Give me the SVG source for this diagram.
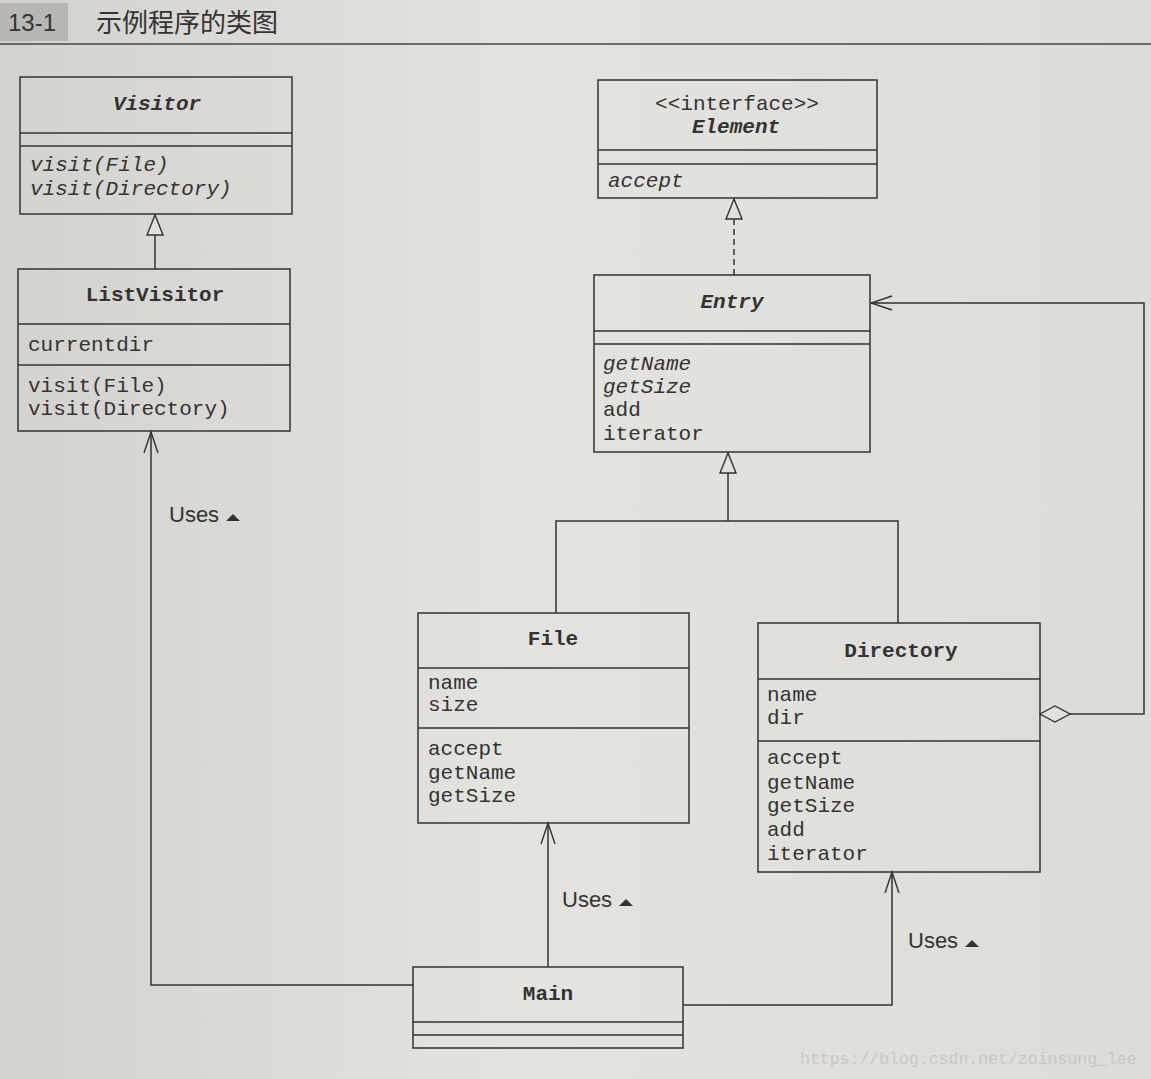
<svg xmlns="http://www.w3.org/2000/svg" width="1151" height="1079" viewBox="0 0 1151 1079">
<defs>
<linearGradient id="bg" x1="0" y1="0" x2="1" y2="0">
<stop offset="0" stop-color="#d3d2cf"/>
<stop offset="0.45" stop-color="#e4e3e0"/>
<stop offset="1" stop-color="#dddcd8"/>
</linearGradient>
<marker id="tri" markerUnits="userSpaceOnUse" markerWidth="24" markerHeight="20" viewBox="-22 -9 24 18" refX="0" refY="0" orient="auto">
<path d="M0,0 L-20,-8 L-20,8 Z" fill="#e2e1de" stroke="#333" stroke-width="1.4"/>
</marker>
<marker id="open" markerUnits="userSpaceOnUse" markerWidth="26" markerHeight="20" viewBox="-24 -10 26 20" refX="0" refY="0" orient="auto">
<path d="M-21,-7 L0,0 L-21,7" fill="none" stroke="#333" stroke-width="1.4"/>
</marker>
<marker id="diamond" markerUnits="userSpaceOnUse" markerWidth="34" markerHeight="20" viewBox="-1 -10 34 20" refX="0" refY="0" orient="auto">
<path d="M0,0 L15,-8 L30,0 L15,8 Z" fill="#e2e1de" stroke="#333" stroke-width="1.4"/>
</marker>
</defs>
<style>
.box{fill:none;stroke:#333;stroke-width:1.5}
.sep{stroke:#333;stroke-width:1.5}
.t{font-family:"Liberation Mono","DejaVu Sans Mono",monospace;font-size:21px;fill:#333}
.name{font-weight:bold;text-anchor:middle}
.it{font-style:italic}
.conn{fill:none;stroke:#333;stroke-width:1.5}
.uses{font-family:"Liberation Sans",Arial,sans-serif;font-size:22px;fill:#333}
.utri{fill:#333}
</style>
<rect x="0" y="0" width="1151" height="1079" fill="url(#bg)"/>
<g id="header">
<rect x="0" y="3" width="68" height="38" fill="#b9b7b3"/>
<text x="8" y="31" font-family="Liberation Sans, Arial, sans-serif" font-size="24" fill="#333">13-1</text>
<text x="96" y="32" font-family="Liberation Sans, 'Noto Sans CJK SC', sans-serif" font-size="26" fill="#333">示例程序的类图</text>
<line x1="0" y1="44" x2="1151" y2="44" stroke="#444" stroke-width="1.5"/>
</g>

<g id="connectors">
<line class="conn" x1="155" y1="269" x2="155" y2="215" marker-end="url(#tri)"/>
<line class="conn" x1="734" y1="275" x2="734" y2="199" stroke-dasharray="6,4" marker-end="url(#tri)"/>
<path class="conn" d="M556,613 V521 H898 V623"/>
<line class="conn" x1="728" y1="521" x2="728" y2="453" marker-end="url(#tri)"/>
<path class="conn" d="M1040,714 H1144 V303 H871" marker-start="url(#diamond)" marker-end="url(#open)"/>
<path class="conn" d="M413,985 H151 V432" marker-end="url(#open)"/>
<line class="conn" x1="548" y1="967" x2="548" y2="823" marker-end="url(#open)"/>
<path class="conn" d="M683,1005 H892 V872" marker-end="url(#open)"/>
<text class="uses" x="169" y="522">Uses</text>
<path class="utri" d="M226,521 L233,514 L240,521 Z"/>
<text class="uses" x="562" y="907">Uses</text>
<path class="utri" d="M619,906 L626,899 L633,906 Z"/>
<text class="uses" x="908" y="948">Uses</text>
<path class="utri" d="M965,947 L972,940 L979,947 Z"/>
</g>

<g id="Visitor">
<rect class="box" x="20" y="77" width="272" height="137"/>
<line class="sep" x1="20" y1="133" x2="292" y2="133"/>
<line class="sep" x1="20" y1="146" x2="292" y2="146"/>
<text class="t name it" x="157" y="110">Visitor</text>
<text class="t it" x="30" y="171">visit(File)</text>
<text class="t it" x="30" y="195">visit(Directory)</text>
</g>

<g id="ListVisitor">
<rect class="box" x="18" y="269" width="272" height="162"/>
<line class="sep" x1="18" y1="324" x2="290" y2="324"/>
<line class="sep" x1="18" y1="365" x2="290" y2="365"/>
<text class="t name" x="155" y="301">ListVisitor</text>
<text class="t" x="28" y="351">currentdir</text>
<text class="t" x="28" y="392">visit(File)</text>
<text class="t" x="28" y="415">visit(Directory)</text>
</g>

<g id="Element">
<rect class="box" x="598" y="80" width="279" height="118"/>
<line class="sep" x1="598" y1="150" x2="877" y2="150"/>
<line class="sep" x1="598" y1="164" x2="877" y2="164"/>
<text class="t" x="737" y="110" text-anchor="middle">&lt;&lt;interface&gt;&gt;</text>
<text class="t name it" x="736" y="133">Element</text>
<text class="t it" x="608" y="187">accept</text>
</g>

<g id="Entry">
<rect class="box" x="594" y="275" width="276" height="177"/>
<line class="sep" x1="594" y1="331" x2="870" y2="331"/>
<line class="sep" x1="594" y1="344" x2="870" y2="344"/>
<text class="t name it" x="732" y="308">Entry</text>
<text class="t it" x="603" y="370">getName</text>
<text class="t it" x="603" y="393">getSize</text>
<text class="t" x="603" y="416">add</text>
<text class="t" x="603" y="440">iterator</text>
</g>

<g id="File">
<rect class="box" x="418" y="613" width="271" height="210"/>
<line class="sep" x1="418" y1="668" x2="689" y2="668"/>
<line class="sep" x1="418" y1="728" x2="689" y2="728"/>
<text class="t name" x="553" y="645">File</text>
<text class="t" x="428" y="689">name</text>
<text class="t" x="428" y="711">size</text>
<text class="t" x="428" y="755">accept</text>
<text class="t" x="428" y="779">getName</text>
<text class="t" x="428" y="802">getSize</text>
</g>

<g id="Directory">
<rect class="box" x="758" y="623" width="282" height="249"/>
<line class="sep" x1="758" y1="679" x2="1040" y2="679"/>
<line class="sep" x1="758" y1="741" x2="1040" y2="741"/>
<text class="t name" x="901" y="657">Directory</text>
<text class="t" x="767" y="701">name</text>
<text class="t" x="767" y="724">dir</text>
<text class="t" x="767" y="764">accept</text>
<text class="t" x="767" y="789">getName</text>
<text class="t" x="767" y="812">getSize</text>
<text class="t" x="767" y="836">add</text>
<text class="t" x="767" y="860">iterator</text>
</g>

<g id="Main">
<rect class="box" x="413" y="967" width="270" height="81"/>
<line class="sep" x1="413" y1="1022" x2="683" y2="1022"/>
<line class="sep" x1="413" y1="1035" x2="683" y2="1035"/>
<text class="t name" x="548" y="1000">Main</text>
</g>

<text x="800" y="1064" font-family="Liberation Mono, monospace" font-size="16.5" fill="#c9c8c4">https://blog.csdn.net/zoinsung_lee</text>
</svg>
